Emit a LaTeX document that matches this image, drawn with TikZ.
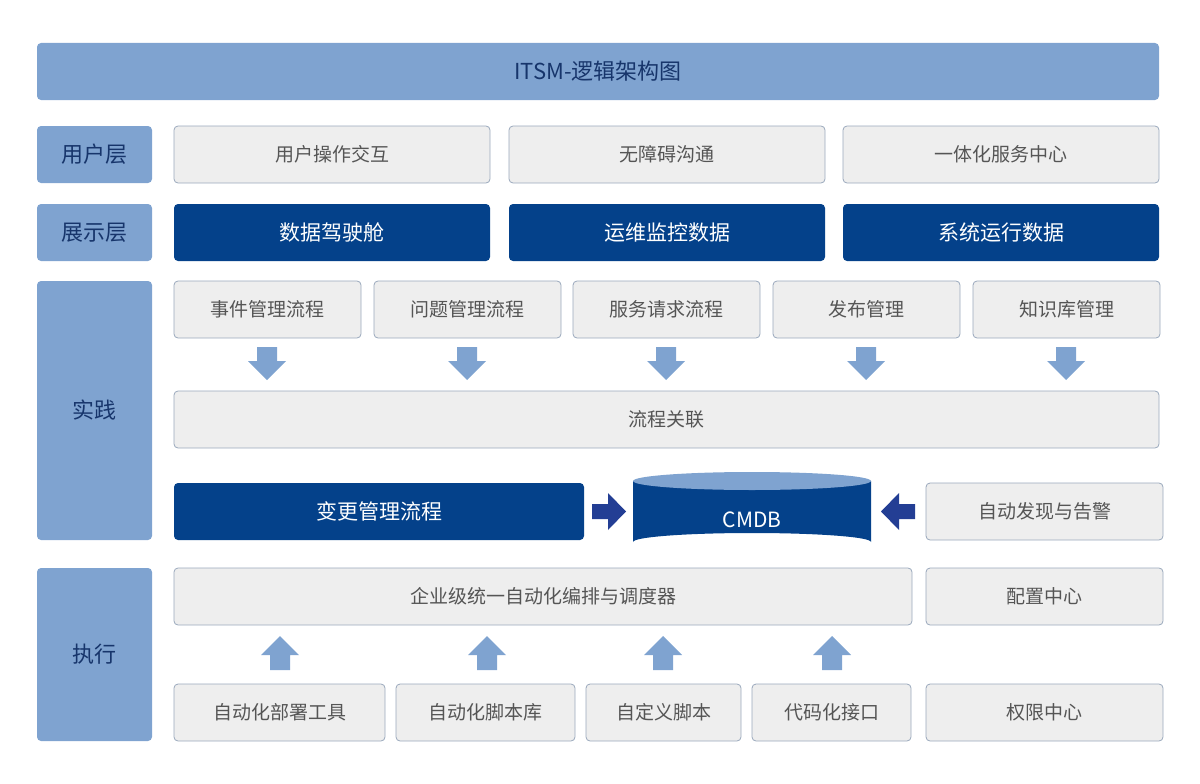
\documentclass[tikz,border=0pt]{standalone}
\usepackage{fontspec}
\setmainfont{Noto Sans CJK SC}
\definecolor{lb}{HTML}{7FA3D0}
\definecolor{db}{HTML}{04418A}
\definecolor{gb}{HTML}{EEEEEE}
\definecolor{gl}{HTML}{9AA8BC}
\definecolor{ab}{HTML}{233E94}
\definecolor{tx}{HTML}{555555}
\definecolor{lt}{HTML}{17356B}
\begin{document}
\begin{tikzpicture}[x=1pt,y=-1pt,
 lbl/.style={fill=lb,rounded corners=4pt},
 lbx/.style={fill=gb,draw=gl,line width=0.8pt,rounded corners=4pt},
 dbx/.style={fill=db,rounded corners=4pt},
 tl/.style={font=\fontsize{22}{24}\selectfont,text=lt},
 tg/.style={font=\fontsize{19}{22}\selectfont,text=tx},
 tw/.style={font=\fontsize{21}{24}\selectfont,text=white},
 arr/.style={fill=lb},
 darr/.style={fill=ab}]
\useasboundingbox (0,0) rectangle (1200,784);
\newcommand\B[6]{\path[#1] (#2,#3) rectangle (#4,#5); \node[#6] at ({(#2+#4)/2},{(#3+#5)/2})}
\B{lbl}{37}{43}{1159}{100}{tl}(t){ITSM-逻辑架构图};
\B{lbl}{37}{126}{152}{183}{tl}(l1){用户层};
\B{lbl}{37}{204}{152}{261}{tl}(l2){展示层};
\B{lbl}{37}{281}{152}{540}{tl}(l3){实践};
\B{lbl}{37}{568}{152}{741}{tl}(l4){执行};
\B{lbx}{174}{126}{490}{183}{tg}(u1){用户操作交互};
\B{lbx}{509}{126}{825}{183}{tg}(u2){无障碍沟通};
\B{lbx}{843}{126}{1159}{183}{tg}(u3){一体化服务中心};
\B{dbx}{174}{204}{490}{261}{tw}(s1){数据驾驶舱};
\B{dbx}{509}{204}{825}{261}{tw}(s2){运维监控数据};
\B{dbx}{843}{204}{1159}{261}{tw}(s3){系统运行数据};
\B{lbx}{174}{281}{361}{338}{tg}(p1){事件管理流程};
\B{lbx}{374}{281}{561}{338}{tg}(p2){问题管理流程};
\B{lbx}{573}{281}{760}{338}{tg}(p3){服务请求流程};
\B{lbx}{773}{281}{960}{338}{tg}(p4){发布管理};
\B{lbx}{973}{281}{1160}{338}{tg}(p5){知识库管理};
\B{lbx}{174}{391}{1159}{448}{tg}(fl){流程关联};
\B{dbx}{174}{483}{584}{540}{tw}(ch){变更管理流程};
\B{lbx}{926}{483}{1163}{540}{tg}(ad){自动发现与告警};
\B{lbx}{174}{568}{912}{625}{tg}(or){企业级统一自动化编排与调度器};
\B{lbx}{926}{568}{1163}{625}{tg}(cc){配置中心};
\B{lbx}{174}{684}{385}{741}{tg}(b1){自动化部署工具};
\B{lbx}{396}{684}{575}{741}{tg}(b2){自动化脚本库};
\B{lbx}{586}{684}{741}{741}{tg}(b3){自定义脚本};
\B{lbx}{752}{684}{911}{741}{tg}(b4){代码化接口};
\B{lbx}{926}{684}{1163}{741}{tg}(b5){权限中心};
% down arrows
\foreach \c in {267,467,666,866,1066}{
 \path[arr] (\c-10,347) -- (\c+10,347) -- (\c+10,361) -- (\c+19,361) -- (\c,380) -- (\c-19,361) -- (\c-10,361) -- cycle;}
% up arrows
\foreach \c in {280,487,663,832}{
 \path[arr] (\c-10,670) -- (\c+10,670) -- (\c+10,655) -- (\c+19,655) -- (\c,636) -- (\c-19,655) -- (\c-10,655) -- cycle;}
% CMDB
\path[fill=db] (633,481) -- (633,542) arc[start angle=180,end angle=360,x radius=119,y radius=9] -- (871,481) -- cycle;
\path[fill=lb] (752,481) ellipse[x radius=119,y radius=9];
\node[font=\fontsize{21}{24}\selectfont,text=white] (cm) at (752,520) {CMDB};
\path[darr] (592,504) -- (608,504) -- (608,493) -- (626,511.5) -- (608,530) -- (608,519) -- (592,519) -- cycle;
\path[darr] (915,504) -- (899,504) -- (899,493) -- (881,511.5) -- (899,530) -- (899,519) -- (915,519) -- cycle;
\end{tikzpicture}
\end{document}
